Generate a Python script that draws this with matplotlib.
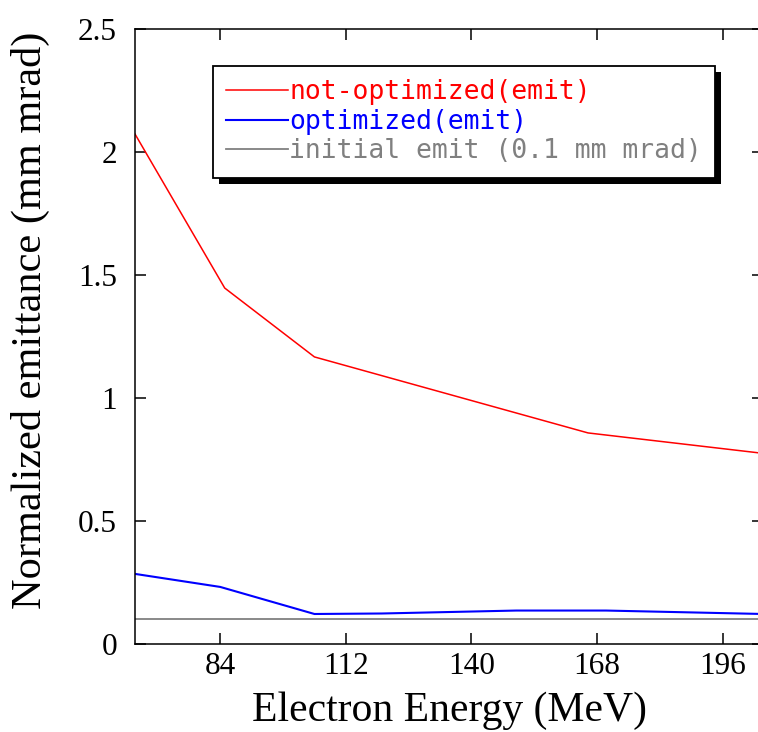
import matplotlib
matplotlib.use("Agg")
import matplotlib.pyplot as plt
from matplotlib.patches import Rectangle

# Data
energy_notopt = [65, 85, 105, 166, 205]
emit_notopt = [2.073, 1.447, 1.167, 0.858, 0.775]
energy_opt = [65, 84, 105, 120, 135, 150, 170, 190, 205]
emit_opt = [0.285, 0.232, 0.122, 0.124, 0.13, 0.136, 0.136, 0.128, 0.122]
initial_emit = 0.1
xticks = [84, 112, 140, 168, 196]
yticks = [0, 0.5, 1, 1.5, 2, 2.5]
yticklabels = ["0", "0.5", "1", "1.5", "2", "2.5"]
labels = ["not-optimized(emit)", "optimized(emit)", "initial emit (0.1 mm mrad)"]

fig = plt.figure(figsize=(7.58, 7.32), dpi=100)
ax = fig.add_axes([135/758, 1 - 644/732, (763-135)/758, (644-29)/732])

ax.plot(energy_notopt, emit_notopt, color="#ff0000", lw=1.1, label=labels[0])
ax.plot(energy_opt, emit_opt, color="#0000ff", lw=1.5, label=labels[1])
ax.axhline(initial_emit, color="#808080", lw=1.3, label=labels[2])

ax.set_xlim(65, 205)
ax.set_ylim(0, 2.5)
ax.set_xticks(xticks)
ax.set_yticks(yticks)
ax.set_yticklabels(yticklabels)
serif = "Liberation Serif"
for lab in ax.get_xticklabels() + ax.get_yticklabels():
    lab.set_fontfamily(serif)
    lab.set_fontsize(22.5)
ax.tick_params(direction="in", length=8, width=1.1, top=True, right=True)
ax.tick_params(axis="x", pad=6)
ax.tick_params(axis="y", pad=13)
for s in ax.spines.values():
    s.set_linewidth(1.1)

ax.set_xlabel("Electron Energy (MeV)", fontfamily=serif, fontsize=30, labelpad=7)
ax.set_ylabel("Normalized emittance (mm mrad)", fontfamily=serif, fontsize=30.5)
ax.yaxis.set_label_coords(-0.135, 0.527)

leg = ax.legend(loc="upper left", bbox_to_anchor=(0.124, 0.94), borderaxespad=0,
                prop={"family": "DejaVu Sans Mono", "size": 19},
                labelcolor="linecolor", fancybox=False, framealpha=1,
                edgecolor="black", handlelength=2.35, handletextpad=0.05,
                labelspacing=0.14, borderpad=0.5)
leg.get_frame().set_linewidth(1.3)
leg.set_zorder(5)

fig.canvas.draw()
bb = leg.get_window_extent()
off = 6
shadow = Rectangle((bb.x0 + off, bb.y0 - off), bb.width, bb.height,
                   transform=None, facecolor="black", edgecolor="none", zorder=4)
ax.add_artist(shadow)

fig.savefig("out.png", dpi=100)
